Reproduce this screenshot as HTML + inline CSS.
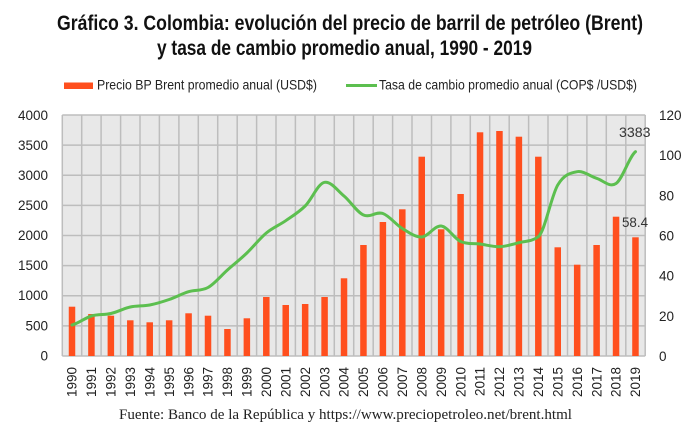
<!DOCTYPE html>
<html><head><meta charset="utf-8"><style>
html,body{margin:0;padding:0;background:#fff;}
svg{display:block;}
text{font-family:"Liberation Sans",sans-serif;}
</style></head><body>
<svg width="700" height="438" viewBox="0 0 700 438" xmlns="http://www.w3.org/2000/svg">
<rect x="0" y="0" width="700" height="438" fill="#fff"/>
<!-- Title -->
<text x="57" y="30" font-size="21" font-weight="bold" fill="#111" textLength="586" lengthAdjust="spacingAndGlyphs">Gráfico 3. Colombia: evolución del precio de barril de petróleo (Brent)</text>
<text x="157" y="55" font-size="21" font-weight="bold" fill="#111" textLength="375" lengthAdjust="spacingAndGlyphs">y tasa de cambio promedio anual, 1990 - 2019</text>
<!-- Legend -->
<rect x="64" y="82.5" width="29" height="6.5" fill="#ff4f1e"/>
<text x="97" y="89.5" font-size="14" fill="#222" textLength="220" lengthAdjust="spacingAndGlyphs">Precio BP Brent promedio anual (USD$)</text>
<line x1="346" y1="85.5" x2="377" y2="85.5" stroke="#5cbf4f" stroke-width="3"/>
<text x="379" y="89.5" font-size="14" fill="#222" textLength="258" lengthAdjust="spacingAndGlyphs">Tasa de cambio promedio anual (COP$ /USD$)</text>
<!-- Plot area -->
<rect x="62.3" y="115" width="582.9" height="241" fill="#e8e8e8"/>
<g stroke="#bdbdbd" stroke-width="1.5" fill="none">
<line x1="62.3" y1="115" x2="645.2" y2="115"/>
<line x1="62.3" y1="145.1" x2="645.2" y2="145.1"/>
<line x1="62.3" y1="175.25" x2="645.2" y2="175.25"/>
<line x1="62.3" y1="205.4" x2="645.2" y2="205.4"/>
<line x1="62.3" y1="235.5" x2="645.2" y2="235.5"/>
<line x1="62.3" y1="265.6" x2="645.2" y2="265.6"/>
<line x1="62.3" y1="295.75" x2="645.2" y2="295.75"/>
<line x1="62.3" y1="325.9" x2="645.2" y2="325.9"/>
<line x1="62.3" y1="356" x2="645.2" y2="356"/>
<line x1="62.3" y1="115" x2="62.3" y2="356"/>
<line x1="81.7" y1="115" x2="81.7" y2="356"/>
<line x1="101.1" y1="115" x2="101.1" y2="356"/>
<line x1="120.6" y1="115" x2="120.6" y2="356"/>
<line x1="140.0" y1="115" x2="140.0" y2="356"/>
<line x1="159.4" y1="115" x2="159.4" y2="356"/>
<line x1="178.9" y1="115" x2="178.9" y2="356"/>
<line x1="198.3" y1="115" x2="198.3" y2="356"/>
<line x1="217.7" y1="115" x2="217.7" y2="356"/>
<line x1="237.2" y1="115" x2="237.2" y2="356"/>
<line x1="256.6" y1="115" x2="256.6" y2="356"/>
<line x1="276.0" y1="115" x2="276.0" y2="356"/>
<line x1="295.4" y1="115" x2="295.4" y2="356"/>
<line x1="314.9" y1="115" x2="314.9" y2="356"/>
<line x1="334.3" y1="115" x2="334.3" y2="356"/>
<line x1="353.7" y1="115" x2="353.7" y2="356"/>
<line x1="373.2" y1="115" x2="373.2" y2="356"/>
<line x1="392.6" y1="115" x2="392.6" y2="356"/>
<line x1="412.0" y1="115" x2="412.0" y2="356"/>
<line x1="431.5" y1="115" x2="431.5" y2="356"/>
<line x1="450.9" y1="115" x2="450.9" y2="356"/>
<line x1="470.3" y1="115" x2="470.3" y2="356"/>
<line x1="489.7" y1="115" x2="489.7" y2="356"/>
<line x1="509.2" y1="115" x2="509.2" y2="356"/>
<line x1="528.6" y1="115" x2="528.6" y2="356"/>
<line x1="548.0" y1="115" x2="548.0" y2="356"/>
<line x1="567.5" y1="115" x2="567.5" y2="356"/>
<line x1="586.9" y1="115" x2="586.9" y2="356"/>
<line x1="606.3" y1="115" x2="606.3" y2="356"/>
<line x1="625.8" y1="115" x2="625.8" y2="356"/>
<line x1="645.2" y1="115" x2="645.2" y2="356"/>
</g>
<!-- Bars -->
<g fill="#ff4f1e">
<rect x="68.75" y="306.7" width="6.5" height="49.3"/>
<rect x="88.18" y="314" width="6.5" height="42"/>
<rect x="107.61" y="315.7" width="6.5" height="40.3"/>
<rect x="127.04" y="320.3" width="6.5" height="35.7"/>
<rect x="146.47" y="322.3" width="6.5" height="33.7"/>
<rect x="165.9" y="320.3" width="6.5" height="35.7"/>
<rect x="185.33" y="313.3" width="6.5" height="42.7"/>
<rect x="204.76" y="315.7" width="6.5" height="40.3"/>
<rect x="224.19" y="329" width="6.5" height="27"/>
<rect x="243.62" y="318.3" width="6.5" height="37.7"/>
<rect x="263.05" y="297" width="6.5" height="59"/>
<rect x="282.48" y="305" width="6.5" height="51"/>
<rect x="301.91" y="304" width="6.5" height="52"/>
<rect x="321.34" y="297" width="6.5" height="59"/>
<rect x="340.77" y="278.3" width="6.5" height="77.7"/>
<rect x="360.2" y="245" width="6.5" height="111"/>
<rect x="379.63" y="222" width="6.5" height="134"/>
<rect x="399.06" y="209.3" width="6.5" height="146.7"/>
<rect x="418.49" y="156.7" width="6.5" height="199.3"/>
<rect x="437.92" y="229.3" width="6.5" height="126.7"/>
<rect x="457.35" y="194" width="6.5" height="162"/>
<rect x="476.78" y="132.3" width="6.5" height="223.7"/>
<rect x="496.21" y="131" width="6.5" height="225"/>
<rect x="515.64" y="136.7" width="6.5" height="219.3"/>
<rect x="535.07" y="156.7" width="6.5" height="199.3"/>
<rect x="554.5" y="247.3" width="6.5" height="108.7"/>
<rect x="573.93" y="264.7" width="6.5" height="91.3"/>
<rect x="593.36" y="245" width="6.5" height="111"/>
<rect x="612.79" y="216.7" width="6.5" height="139.3"/>
<rect x="632.22" y="237.3" width="6.5" height="118.7"/>
</g>
<!-- Line -->
<path fill="none" stroke="#5cbf4f" stroke-width="3" stroke-linejoin="round" stroke-linecap="round" d="M72,325 C78.48,323.5 84.95,317.92 91.43,316 C97.91,314.08 104.38,315 110.86,313.5 C117.34,312 123.81,308.42 130.29,307 C136.77,305.58 143.24,306.25 149.72,305 C156.2,303.75 162.67,301.72 169.15,299.5 C175.63,297.28 182.1,293.7 188.58,291.7 C195.06,289.7 201.53,291.12 208.01,287.5 C214.49,283.88 220.96,275.75 227.44,270 C233.92,264.25 240.39,259.17 246.87,253 C253.35,246.83 259.82,238.38 266.3,233 C272.78,227.62 279.25,225.2 285.73,220.7 C292.21,216.2 298.68,212.4 305.16,206 C311.64,199.6 318.11,183.3 324.59,182.3 C331.07,181.3 337.54,190.55 344.02,196 C350.5,201.45 356.97,212.08 363.45,215 C369.93,217.92 376.4,211.25 382.88,213.5 C389.36,215.75 395.83,224.58 402.31,228.5 C408.79,232.42 415.26,237.42 421.74,237 C428.22,236.58 434.69,225.25 441.17,226 C447.65,226.75 454.12,238.5 460.6,241.5 C467.08,244.5 473.55,243.13 480.03,244 C486.51,244.87 492.98,246.92 499.46,246.7 C505.94,246.48 512.41,244.37 518.89,242.7 C525.37,241.03 531.84,241.7 538.32,236.7 C544.8,231.7 551.27,195.83 557.75,185 C564.23,174.17 570.7,172.82 577.18,171.7 C583.66,170.58 590.13,176.33 596.61,178.3 C603.09,180.27 609.56,187.93 616.04,183.5 C622.52,179.07 628.99,157 635.47,151.7"/>
<!-- Data labels -->
<text x="619" y="137" font-size="14" fill="#333" textLength="31.5" lengthAdjust="spacingAndGlyphs">3383</text>
<text x="622" y="227" font-size="14" fill="#333" textLength="26" lengthAdjust="spacingAndGlyphs">58.4</text>
<!-- Left axis labels -->
<g font-size="13.5" fill="#222" text-anchor="end">
<text x="48" y="120">4000</text>
<text x="48" y="150">3500</text>
<text x="48" y="180">3000</text>
<text x="48" y="210">2500</text>
<text x="48" y="240">2000</text>
<text x="48" y="270">1500</text>
<text x="48" y="300">1000</text>
<text x="48" y="330.5">500</text>
<text x="48" y="360.5">0</text>
</g>
<!-- Right axis labels -->
<g font-size="13.5" fill="#222">
<text x="659" y="120">120</text>
<text x="659" y="160.2">100</text>
<text x="659" y="200.3">80</text>
<text x="659" y="240.5">60</text>
<text x="659" y="280.7">40</text>
<text x="659" y="320.8">20</text>
<text x="659" y="361">0</text>
</g>
<!-- Year labels -->
<g font-size="13.5" fill="#222" text-anchor="end">
<text transform="translate(76.7,367) rotate(-90)">1990</text>
<text transform="translate(96.1,367) rotate(-90)">1991</text>
<text transform="translate(115.6,367) rotate(-90)">1992</text>
<text transform="translate(135.0,367) rotate(-90)">1993</text>
<text transform="translate(154.4,367) rotate(-90)">1994</text>
<text transform="translate(173.9,367) rotate(-90)">1995</text>
<text transform="translate(193.3,367) rotate(-90)">1996</text>
<text transform="translate(212.7,367) rotate(-90)">1997</text>
<text transform="translate(232.1,367) rotate(-90)">1998</text>
<text transform="translate(251.6,367) rotate(-90)">1999</text>
<text transform="translate(271.0,367) rotate(-90)">2000</text>
<text transform="translate(290.4,367) rotate(-90)">2001</text>
<text transform="translate(309.9,367) rotate(-90)">2002</text>
<text transform="translate(329.3,367) rotate(-90)">2003</text>
<text transform="translate(348.7,367) rotate(-90)">2004</text>
<text transform="translate(368.2,367) rotate(-90)">2005</text>
<text transform="translate(387.6,367) rotate(-90)">2006</text>
<text transform="translate(407.0,367) rotate(-90)">2007</text>
<text transform="translate(426.4,367) rotate(-90)">2008</text>
<text transform="translate(445.9,367) rotate(-90)">2009</text>
<text transform="translate(465.3,367) rotate(-90)">2010</text>
<text transform="translate(484.7,367) rotate(-90)">2011</text>
<text transform="translate(504.2,367) rotate(-90)">2012</text>
<text transform="translate(523.6,367) rotate(-90)">2013</text>
<text transform="translate(543.0,367) rotate(-90)">2014</text>
<text transform="translate(562.5,367) rotate(-90)">2015</text>
<text transform="translate(581.9,367) rotate(-90)">2016</text>
<text transform="translate(601.3,367) rotate(-90)">2017</text>
<text transform="translate(620.7,367) rotate(-90)">2018</text>
<text transform="translate(640.2,367) rotate(-90)">2019</text>
</g>
<!-- Footer -->
<text x="119" y="419" font-size="15" fill="#222" style="font-family:'Liberation Serif',serif" textLength="453" lengthAdjust="spacingAndGlyphs">Fuente: Banco de la República y https://www.preciopetroleo.net/brent.html</text>
</svg>
</body></html>
